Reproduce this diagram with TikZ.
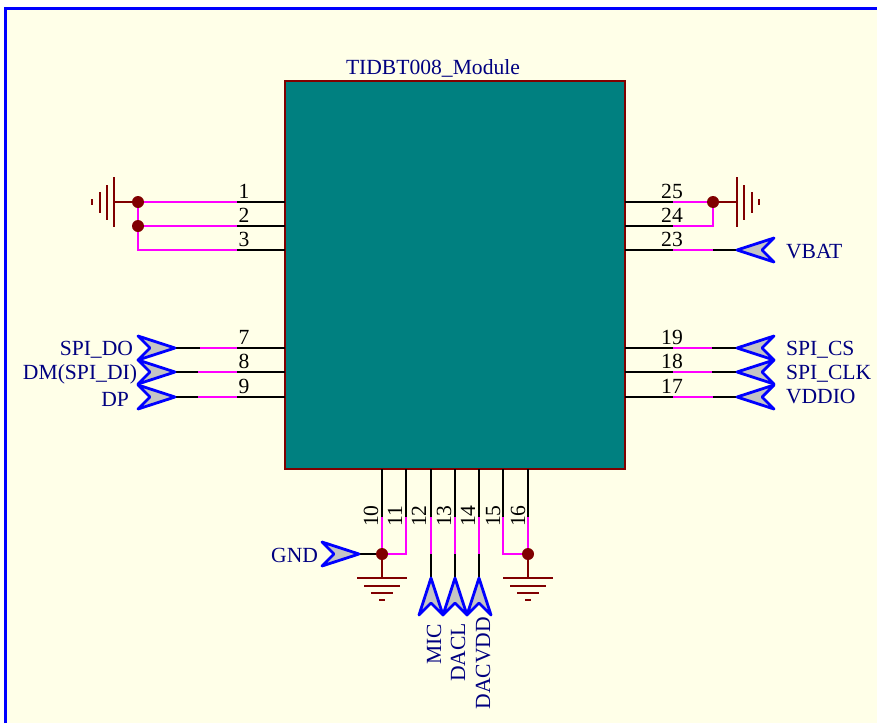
\documentclass[tikz,border=0pt]{standalone}
\usepackage{fontspec}
\setmainfont{Liberation Serif}
\definecolor{sheet}{HTML}{FFFFE8}
\definecolor{frameblue}{HTML}{0000FF}
\definecolor{chipfill}{HTML}{008080}
\definecolor{darkred}{HTML}{800000}
\definecolor{navy}{HTML}{000080}
\definecolor{netpink}{HTML}{FF00FF}
\definecolor{portgray}{HTML}{C4C4C4}
\tikzset{
  x=1pt,y=-1pt,
  txt/.style={font=\fontsize{21.6}{24}\selectfont,inner sep=0pt,outer sep=0pt},
  pinnum/.style={txt,text=black},
  netlabel/.style={txt,text=navy},
  pinwire/.style={draw=black,line width=2.8pt},
  netwire/.style={draw=netpink,line width=2.8pt,line join=miter},
  gndwire/.style={draw=darkred,line width=2.8pt},
  gndbar/.style={draw=darkred,line width=2.8pt},
  portshape/.style={draw=frameblue,fill=portgray,line width=2.8pt,line join=round},
  junction/.style={circle,fill=darkred,draw=none,minimum size=12pt,inner sep=0pt},
  chip/.style={draw=darkred,fill=chipfill,line width=2.8pt,inner sep=0pt,outer sep=0pt,minimum width=340pt,minimum height=388pt}
}
% port pointing right: tip at (#1,#2)
\newcommand{\portR}[2]{\draw[portshape] (#1,#2) -- (#1-37,#2-12) -- (#1-25,#2) -- (#1-37,#2+12) -- cycle;}
% port pointing left: tip at (#1,#2)
\newcommand{\portL}[2]{\draw[portshape] (#1,#2) -- (#1+37,#2-12) -- (#1+25,#2) -- (#1+37,#2+12) -- cycle;}
% port pointing up: tip at (#1,#2)
\newcommand{\portU}[2]{\draw[portshape] (#1,#2) -- (#1-12,#2+37) -- (#1,#2+25) -- (#1+12,#2+37) -- cycle;}
% ground symbols
\newcommand{\gndL}[2]{\draw[gndbar] (#1,#2-25)--(#1,#2+25) (#1-7,#2-17)--(#1-7,#2+18) (#1-14,#2-10)--(#1-14,#2+11) (#1-22,#2-3)--(#1-22,#2+3);}
\newcommand{\gndRt}[2]{\draw[gndbar] (#1,#2-25)--(#1,#2+25) (#1+7,#2-17)--(#1+7,#2+18) (#1+15,#2-10)--(#1+15,#2+11) (#1+22,#2-3)--(#1+22,#2+3);}
\newcommand{\gndD}[2]{\draw[gndbar] (#1-25,#2)--(#1+25,#2) (#1-18,#2+8)--(#1+18,#2+8) (#1-11,#2+15)--(#1+11,#2+15) (#1-3,#2+22)--(#1+3,#2+22);}
\begin{document}
\begin{tikzpicture}
\useasboundingbox (0,0) rectangle (877,723);
\fill[white] (0,0) rectangle (877,723);
\fill[sheet] (5,8) rectangle (877,723);
\draw[frameblue,line width=3pt] (5,723) -- (5,8) -- (877,8);

\node[chip,anchor=north west] (U) at (285,81) {};
\node[netlabel,anchor=base west] (title) at (346,74) {TIDBT008\_Module};

% named points
\foreach \n/\y in {a/202,b/226,c/250,d/348,e/372,f/397}{
  \coordinate (L\n) at (U.north west |- 0,\y);
  \coordinate (R\n) at (U.north east |- 0,\y);
  \coordinate (Lk\n) at (237,\y);
  \coordinate (Rk\n) at (673,\y);
}
\foreach \n/\x in {g/382,h/406,i/431,j/455,k/479,l/503,m/528}{
  \coordinate (B\n) at (\x,469);
  \coordinate (Bk\n) at (\x,517);
  \coordinate (Be\n) at (\x,554);
}
\coordinate (LG) at (138,202);
\coordinate (LJ) at (138,226);
\coordinate (LE) at (138,250);
\coordinate (RJ) at (713,202);
\coordinate (RE) at (713,226);

% black pin stubs
\foreach \n in {a,b,c,d,e,f}{
  \draw[pinwire] (L\n) -- (Lk\n);
  \draw[pinwire] (R\n) -- (Rk\n);
}
\foreach \n in {g,h,i,j,k,l,m}{
  \draw[pinwire] (B\n) -- (Bk\n);
}

% left top power group
\draw[gndwire] (LG) -- (114,202);
\gndL{114}{202}
\draw[netwire] (Lka) -- (LG);
\draw[netwire] (Lkb) -- (LJ);
\draw[netwire] (Lkc) -- (LE) -- (LG);
\node[junction] (jLG) at (LG) {};
\node[junction] (jLJ) at (LJ) {};

% right top power group
\draw[gndwire] (RJ) -- (737,202);
\gndRt{737}{202}
\draw[netwire] (Rka) -- (RJ);
\draw[netwire] (Rkb) -- (RE) -- (RJ);
\node[junction] (jRJ) at (RJ) {};

% VBAT
\coordinate (Pvbat) at (737,250);
\draw[pinwire] (713,250) -- (Pvbat);
\draw[netwire] (Rkc) -- (713,250);
\portL{737}{250}
\node[netlabel,anchor=base west] (vbat) at (786,258) {VBAT};

% left ports
\foreach \n/\y/\e in {d/348/200,e/372/198,f/397/198}{
  \coordinate (Pl\n) at (175,\y);
  \draw[pinwire] (\e,\y) -- (Pl\n);
  \draw[netwire] (Lk\n) -- (\e,\y);
}
\portR{175}{397}
\portR{175}{372}
\portR{175}{348}
\node[netlabel,anchor=base east] (spido) at (133,355) {SPI\_DO};
\node[netlabel,anchor=base east] (dm) at (137,379) {DM(SPI\_DI)};
\node[netlabel,anchor=base east] (dp) at (129,406) {DP};

% right ports
\foreach \n/\y/\e in {d/348/712,e/372/712,f/397/713}{
  \coordinate (Pr\n) at (737,\y);
  \draw[pinwire] (\e,\y) -- (Pr\n);
  \draw[netwire] (Rk\n) -- (\e,\y);
}
\portL{737}{397}
\portL{737}{372}
\portL{737}{348}
\node[netlabel,anchor=base west] (spics) at (786,355) {SPI\_CS};
\node[netlabel,anchor=base west] (spiclk) at (786,379) {SPI\_CLK};
\node[netlabel,anchor=base west] (vddio) at (786,403) {VDDIO};

% bottom left GND
\draw[pinwire] (Beg) -- (359,554);
\draw[gndwire] (Beg) -- (382,578);
\gndD{382}{578}
\draw[netwire] (Bkg) -- (Beg) -- (Beh) -- (Bkh);
\node[junction] (jG) at (Beg) {};
\portR{359}{554}
\node[netlabel,anchor=base east] (gnd) at (318,562) {GND};

% bottom ports
\foreach \n/\x in {i/431,j/455,k/479}{
  \coordinate (Pb\n) at (\x,578);
  \draw[pinwire] (Be\n) -- (Pb\n);
  \draw[netwire] (Bk\n) -- (Be\n);
}
\portU{479}{578}
\portU{455}{578}
\portU{431}{578}
\node[netlabel,rotate=90,anchor=base east] (mic) at (441,624) {MIC};
\node[netlabel,rotate=90,anchor=base east] (dacl) at (465,623) {DACL};
\node[netlabel,rotate=90,anchor=base east] (dacvdd) at (490,617) {DACVDD};

% bottom right ground
\draw[gndwire] (Bem) -- (528,578);
\gndD{528}{578}
\draw[netwire] (Bkl) -- (Bel) -- (Bem) -- (Bkm);
\node[junction] (jM) at (Bem) {};

% pin numbers
\foreach \t/\y in {1/198,2/222,3/246,7/344,8/368,9/393}{
  \node[pinnum,anchor=base] (pl\t) at (244,\y) {\t};
}
\foreach \t/\y in {25/198,24/222,23/246,19/344,18/368,17/393}{
  \node[pinnum,anchor=base] (pr\t) at (672,\y) {\t};
}
\foreach \t/\x in {10/378,11/402,12/426,13/451,14/475,15/500,16/525}{
  \node[pinnum,rotate=90,anchor=base] (pb\t) at (\x,516) {\t};
}
\end{tikzpicture}
\end{document}
